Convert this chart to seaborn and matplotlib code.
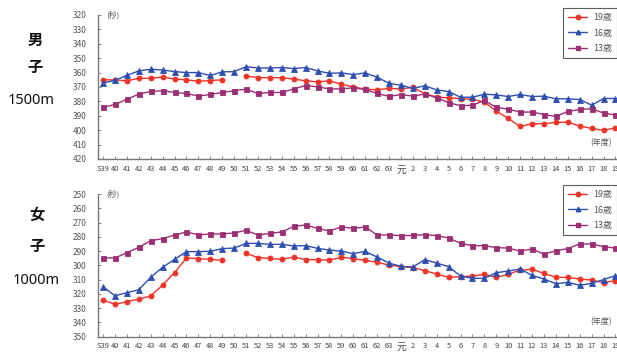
import numpy as np
import pandas as pd
import matplotlib
matplotlib.use("Agg")
import matplotlib.pyplot as plt
from matplotlib.lines import Line2D
import seaborn as sns

nan = np.nan

# School years: Showa 39 .. 63, Heisei 元 (1) .. 19
years = ["S39"] + [str(y) for y in range(40, 64)] + ["元"] + [str(y) for y in range(2, 20)]

# Boys, 1500 m (seconds)
men_19 = [365.1, 365.0, 365.7, 364.0, 364.0, 363.0, 364.5, 365.0, 366.0, 365.5, 365.0, nan,
          362.3, 363.5, 363.5, 363.6, 364.5, 365.7, 366.4, 365.7, 368.0, 370.0, 371.4, 372.0,
          370.9, 371.4, 370.3, 374.6, 377.0, 377.5, 378.0, 378.6, 380.5, 386.7, 391.8, 397.4,
          395.5, 395.5, 394.6, 394.4, 397.1, 398.8, 400.1, 398.4]
men_16 = [367.3, 365.3, 362.0, 358.8, 357.7, 358.2, 359.3, 360.0, 360.0, 362.0, 359.5, 359.3,
          355.9, 356.8, 356.8, 356.5, 357.2, 356.5, 358.8, 360.5, 360.2, 361.4, 360.2, 363.2,
          367.4, 368.8, 370.9, 369.2, 372.0, 373.2, 377.1, 377.1, 375.0, 375.5, 376.6, 375.2,
          376.6, 376.4, 378.2, 378.2, 378.7, 382.6, 378.0, 378.0]
men_13 = [384.2, 382.1, 378.6, 374.9, 373.1, 372.6, 373.8, 374.5, 376.3, 375.2, 373.8, 372.6,
          371.5, 374.5, 373.8, 373.8, 371.3, 369.0, 369.9, 371.3, 371.3, 370.6, 371.7, 374.5,
          376.5, 375.3, 376.3, 374.9, 377.4, 380.9, 383.0, 382.7, 379.3, 384.2, 385.4, 387.4,
          387.4, 389.1, 390.4, 387.0, 385.6, 385.1, 388.1, 389.5]

# Girls, 1000 m (seconds)
women_19 = [324.3, 327.3, 325.5, 323.6, 321.5, 313.8, 305.1, 294.9, 295.3, 295.8, 296.5, nan,
            291.6, 294.6, 295.1, 295.8, 294.2, 296.0, 296.0, 296.3, 294.4, 295.3, 296.5, 297.9,
            299.8, 300.9, 301.6, 303.7, 306.1, 308.4, 307.9, 307.5, 306.3, 308.4, 306.3, 303.3,
            302.8, 305.6, 308.4, 308.4, 309.6, 310.3, 312.1, 310.7]
women_16 = [315.0, 321.3, 319.2, 317.1, 308.4, 301.4, 295.8, 290.4, 290.4, 290.2, 288.3, 287.9,
            284.6, 284.6, 285.3, 285.3, 286.4, 286.2, 288.1, 289.3, 290.0, 291.8, 290.2, 294.2,
            298.4, 300.7, 301.2, 296.0, 298.4, 300.9, 307.5, 309.1, 309.1, 305.1, 304.0, 302.6,
            307.0, 309.6, 312.9, 311.9, 314.0, 312.6, 310.0, 307.2]
women_13 = [294.6, 294.9, 291.1, 287.4, 282.7, 281.3, 278.7, 276.6, 278.7, 278.0, 278.0, 277.3,
            275.5, 278.7, 277.6, 276.6, 272.7, 271.7, 274.1, 275.9, 273.1, 274.1, 273.1, 278.7,
            278.7, 279.2, 279.0, 278.5, 279.2, 280.8, 284.6, 286.2, 286.2, 287.6, 287.9, 290.0,
            288.6, 292.1, 289.7, 288.3, 285.0, 285.0, 286.9, 287.9]

ages = ["19歳", "16歳", "13歳"]
colors = ["#ee3328", "#2f4fb0", "#9c2f74"]
markers = ["o", "^", "s"]
msizes = [3.6, 4.6, 3.6]

sns.set_theme(style="white")
plt.rcParams["font.family"] = ["Noto Sans CJK JP", "DejaVu Sans"]

W, H = 617, 354
fig = plt.figure(figsize=(W / 100, H / 100), dpi=100)


def px_axes(left, top, right, bottom):
    return fig.add_axes([left / W, 1 - bottom / H, (right - left) / W, (bottom - top) / H])


def draw_series(ax, values, color, marker, ms):
    s = pd.Series(values, dtype=float)
    df = pd.DataFrame({"x": np.arange(len(values)), "y": s, "seg": s.isna().cumsum()}).dropna()
    for _, g in df.groupby("seg"):
        sns.lineplot(data=g, x="x", y="y", ax=ax, color=color, marker=marker,
                     markersize=ms, markeredgecolor=color, markeredgewidth=0.6,
                     linewidth=1.0, legend=False)


def style_axes(ax, lo, hi):
    ax.set_xlim(-0.42, 43.8)
    ax.set_ylim(hi, lo)
    ax.set_yticks(np.arange(lo, hi + 1, 10))
    ax.set_xticks(np.arange(len(years)))
    ax.set_xticklabels(years)
    ax.set_xlabel("")
    ax.set_ylabel("")
    for side in ("top", "right"):
        ax.spines[side].set_visible(False)
    for side in ("left", "bottom"):
        ax.spines[side].set_color("#777777")
        ax.spines[side].set_linewidth(1.0)
    ax.tick_params(axis="y", direction="in", length=2, width=0.6, color="#777777",
                   labelsize=6.0, labelcolor="#555555", pad=8, left=True)
    ax.tick_params(axis="x", direction="in", length=2.5, width=0.6, color="#777777",
                   labelsize=5.4, labelcolor="#444444", pad=4, bottom=True)
    for lab in ax.get_xticklabels():
        if lab.get_text() == "元":
            lab.set_fontsize(7)
    ax.patch.set_alpha(0)
    ax.text(0.015, 1.0, "(秒)", transform=ax.transAxes, fontsize=5.6,
            color="#555555", ha="left", va="center")


def add_legend(ax, y_top):
    handles = [Line2D([0], [0], color=c, marker=m, markersize=3.2, markeredgecolor=c,
                      linewidth=1.0) for c, m in zip(colors, markers)]
    leg = fig.legend(handles, ages, loc="upper left",
                     bbox_to_anchor=(563 / W, 1 - y_top / H),
                     fontsize=6.4, frameon=True, fancybox=False, handlelength=2.2,
                     handletextpad=0.6, labelspacing=0.75, borderpad=0.55,
                     borderaxespad=0)
    leg.get_frame().set_edgecolor("#333333")
    leg.get_frame().set_linewidth(0.8)
    for t in leg.get_texts():
        t.set_color("#555555")


panels = [
    (15, 159, 320, 420, [men_19, men_16, men_13], "男", "子", "1500m", 8, 143),
    (194, 336.7, 250, 350, [women_19, women_16, women_13], "女", "子", "1000m", 185, 322),
]

label_pos = [((35, 40), (35, 67), (31, 100)), ((37, 215), (37, 246), (36, 280))]

for (top, bottom, lo, hi, series, c1, c2, dist, leg_top, nendo_y), lp in zip(panels, label_pos):
    ax = px_axes(98, top, 625, bottom)
    for vals, col, mk, ms in zip(series, colors, markers, msizes):
        draw_series(ax, vals, col, mk, ms)
    style_axes(ax, lo, hi)
    add_legend(ax, leg_top)
    fig.text(590 / W, 1 - nendo_y / H, "(年度)", fontsize=5.8, color="#555555",
             ha="left", va="center")
    (x1, y1), (x2, y2), (x3, y3) = lp
    fig.text(x1 / W, 1 - y1 / H, c1, fontsize=11, fontweight="bold",
             ha="center", va="center", color="#111111")
    fig.text(x2 / W, 1 - y2 / H, c2, fontsize=11, fontweight="bold",
             ha="center", va="center", color="#111111")
    fig.text(x3 / W, 1 - y3 / H, dist, fontsize=10.5, family=["Noto Sans", "DejaVu Sans"],
             ha="center", va="center", color="#111111")

fig.savefig("out.png", dpi=100)
